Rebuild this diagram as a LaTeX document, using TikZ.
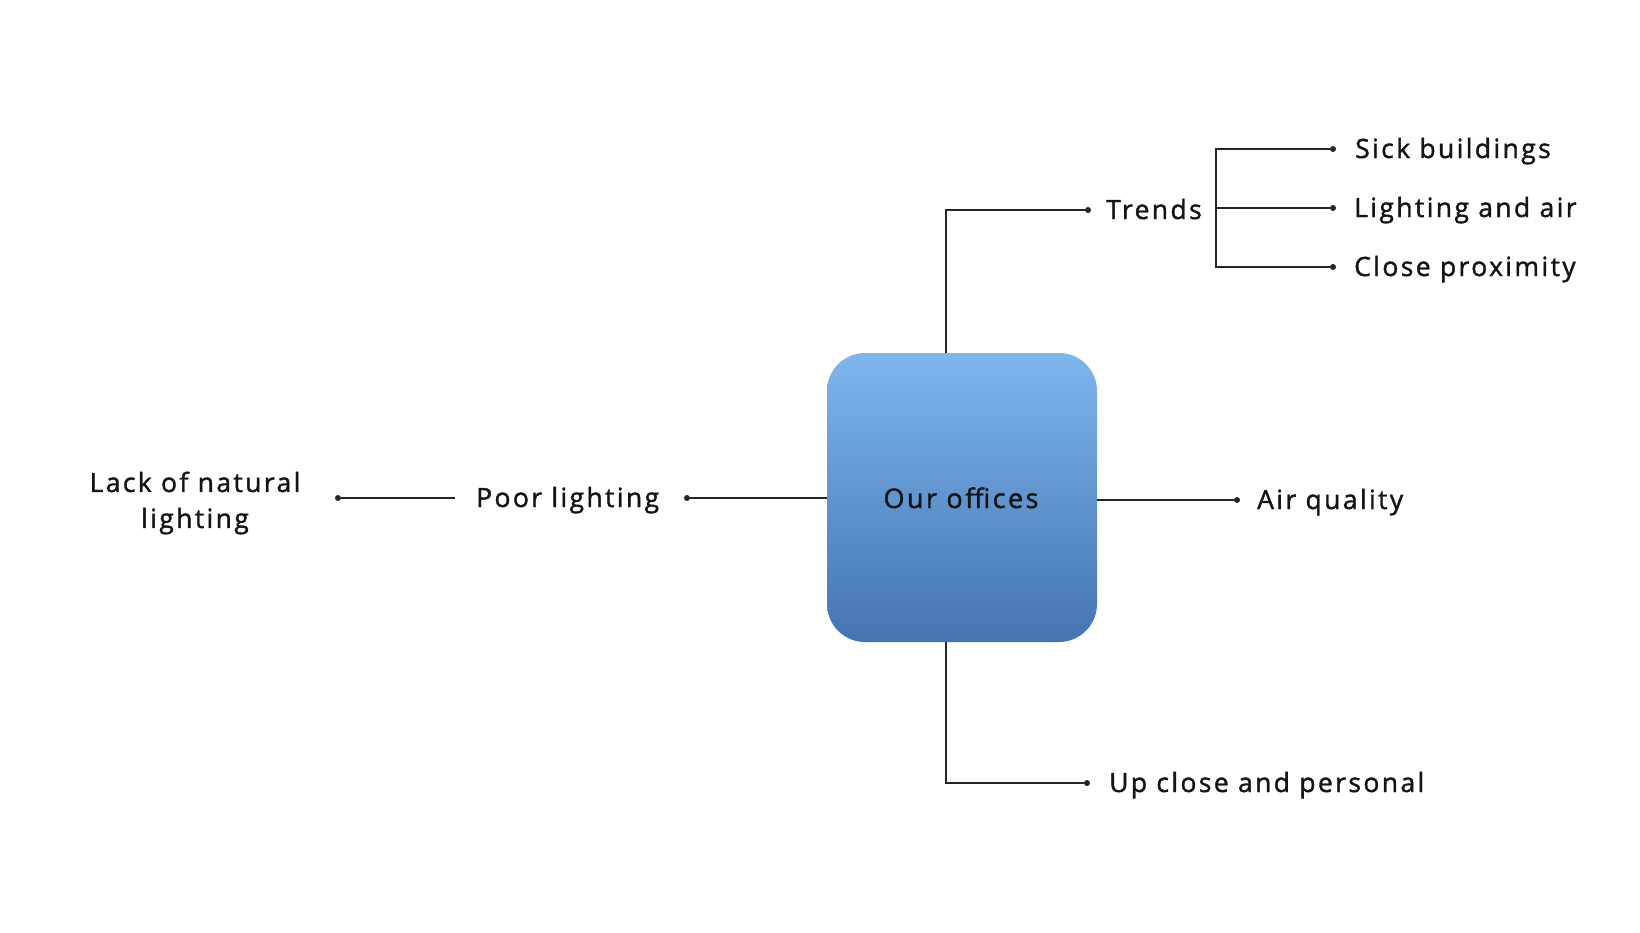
\documentclass[tikz,border=0pt]{standalone}
\usepackage{fontspec}
\setmainfont{Open Sans}[LetterSpace=9, FakeBold=1.4]
\definecolor{boxtop}{HTML}{7DB6EC}
\definecolor{boxbot}{HTML}{4474B1}
\definecolor{ink}{HTML}{141414}
\definecolor{wire}{HTML}{262626}
\begin{document}
\begin{tikzpicture}[x=1pt,y=-1pt,
  lbl/.style={inner sep=0pt, text=ink, font=\fontsize{26.5}{36}\selectfont},
  wirestyle/.style={draw=wire, line width=1.6pt},
  dotnode/.style={circle, fill=wire, inner sep=0pt, minimum size=6pt},
  hub/.style={rounded corners=38pt, top color=boxtop, bottom color=boxbot, draw=none,
    minimum width=270pt, minimum height=289pt, inner sep=0pt}]
\useasboundingbox (0,0) rectangle (1640,932);
\fill[white] (0,0) rectangle (1640,932);

% central box
\node[hub] (hub) at (962,497.5) {};
\node[lbl, anchor=base, font=\fontsize{27}{36}\selectfont] (hubtext) at (961,508) {Our offices};

% Trends branch
\node[dotnode] (dtrends) at (1088,210) {};
\node[lbl, anchor=base west] (trends) at (1106,219) {Trends};
\draw[wirestyle] (hub.north -| 946,0) -- (946,210) -- (dtrends);

% sub-branches
\coordinate (bt) at (1216,149);
\coordinate (bm) at (1216,208);
\coordinate (bb) at (1216,267);
\node[dotnode] (d1) at (1333,149) {};
\node[dotnode] (d2) at (1333,208) {};
\node[dotnode] (d3) at (1333,267) {};
\node[lbl, anchor=base west] (sick) at (1355,158) {Sick buildings};
\node[lbl, anchor=base west] (lightair) at (1354,217) {Lighting and air};
\node[lbl, anchor=base west] (close) at (1354,276) {Close proximity};
\draw[wirestyle] (d1) -- (bt) -- (bb) -- (d3);
\draw[wirestyle] (bm) -- (d2);

% Air quality
\node[dotnode] (dair) at (1237,500) {};
\node[lbl, anchor=base west] (air) at (1257,509) {Air quality};
\draw[wirestyle] (hub.east |- dair) -- (dair);

% Up close and personal
\node[dotnode] (dup) at (1087,783) {};
\node[lbl, anchor=base west] (up) at (1109,792) {Up close and personal};
\draw[wirestyle] (hub.south -| 946,0) -- (946,783) -- (dup);

% Poor lighting
\node[dotnode] (dpoor) at (687,498) {};
\node[lbl, anchor=base west] (poor) at (476,507) {Poor lighting};
\draw[wirestyle] (hub.west |- dpoor) -- (dpoor);

% Lack of natural lighting
\node[dotnode] (dlack) at (338,498) {};
\coordinate (lackend) at (455,498);
\node[lbl, align=center, anchor=center] (lack) at (195,503) {Lack of natural\\lighting};
\draw[wirestyle] (lackend) -- (dlack);
\end{tikzpicture}
\end{document}
